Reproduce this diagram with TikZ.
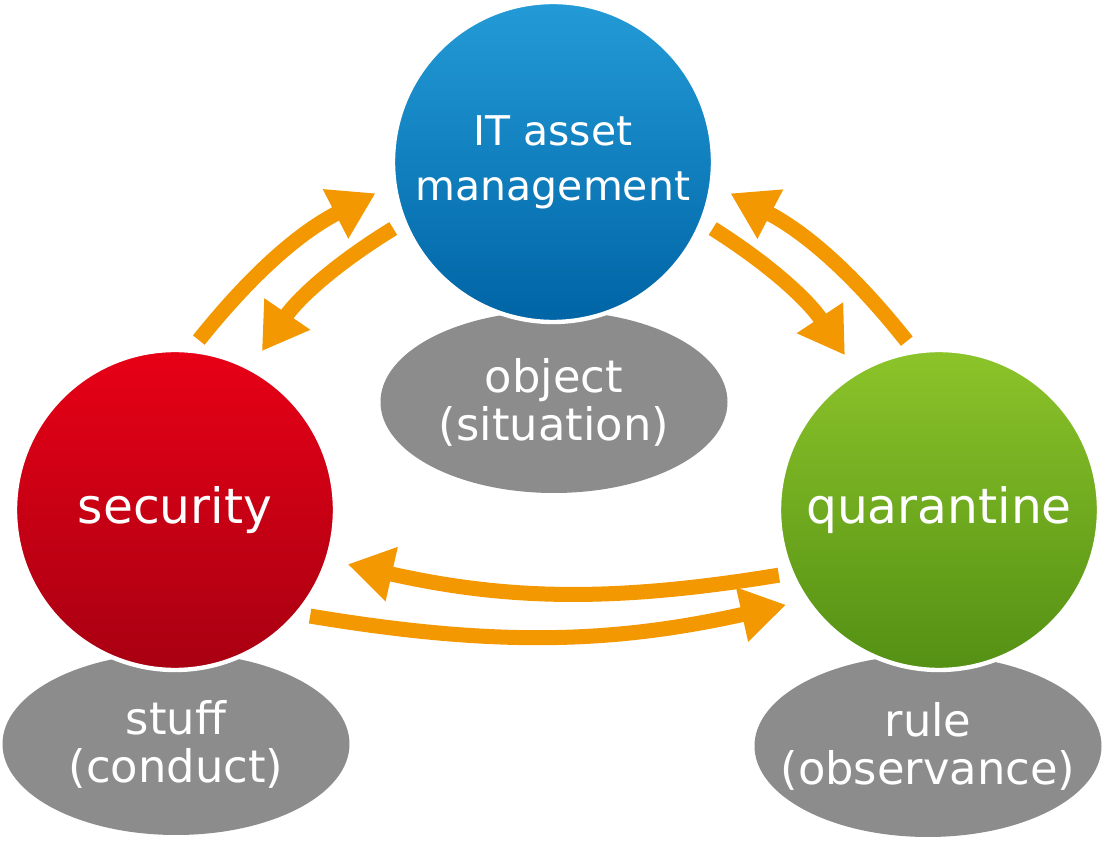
\documentclass[tikz,border=0pt]{standalone}
\usepackage{fontspec}
\setmainfont{DejaVu Sans}
\usepackage{xcolor}
\definecolor{assettop}{RGB}{35,155,215}
\definecolor{assetbot}{RGB}{0,100,165}
\definecolor{sectop}{RGB}{232,0,22}
\definecolor{secbot}{RGB}{168,0,18}
\definecolor{quartop}{RGB}{140,196,42}
\definecolor{quarbot}{RGB}{84,144,20}
\definecolor{aspectgray}{RGB}{140,140,140}
\definecolor{floworange}{RGB}{243,152,0}
\usepackage{tikz}
\usetikzlibrary{shapes.geometric, arrows.meta, positioning}

\begin{document}
\begin{tikzpicture}[
  hub/.style={circle, draw=white, line width=2.5pt, minimum size=6.4cm, align=center, text=white},
  aspect/.style={ellipse, fill=aspectgray, minimum width=6.94cm, minimum height=3.64cm, inner sep=0pt},
  aspectlabel/.style={align=center, text=white, font=\fontsize{25.5}{27.3}\selectfont},
  flow/.style={-{Triangle[length=9mm, width=10.5mm]}, line width=0.3cm, draw=floworange, shorten <=0.22cm, shorten >=0.38cm}
]
\useasboundingbox (0,0) rectangle (22.16,16.88);

% Aspects
\node[aspect] (object) at (11.08,8.84) {};
\node[aspect] (stuff) at (3.52,2.00) {};
\node[aspect] (rule) at (18.56,1.96) {};
\node[aspectlabel] (objecttext) at (object) {object\\(situation)};
\node[aspectlabel] (stufftext) at (stuff) {stuff\\(conduct)};
\node[aspectlabel] (ruletext) at (rule) {rule\\(observance)};

% Nodes
\node[hub, top color=assettop, bottom color=assetbot, font=\fontsize{23.3}{31.3}\selectfont] (asset) at (11.06,13.64) {IT asset\\management};
\node[hub, top color=sectop, bottom color=secbot, font=\fontsize{27.7}{32}\selectfont] (security) at (3.50,6.68) {security};
\node[hub, top color=quartop, bottom color=quarbot, font=\fontsize{27.7}{32}\selectfont] (quarantine) at (18.78,6.68) {quarantine};

% Flows
\draw[flow] (security.84) to[bend left=12] (asset.188);
\draw[flow] (asset.202) to[bend right=12] (security.62);

\draw[flow] (asset.-22) to[bend left=12] (quarantine.121);
\draw[flow] (quarantine.99) to[bend right=12] (asset.-8);

\draw[flow] (quarantine.203) to[bend left=11] (security.-18);
\draw[flow] (security.-40) to[bend right=11] (quarantine.214);

\end{tikzpicture}
\end{document}
